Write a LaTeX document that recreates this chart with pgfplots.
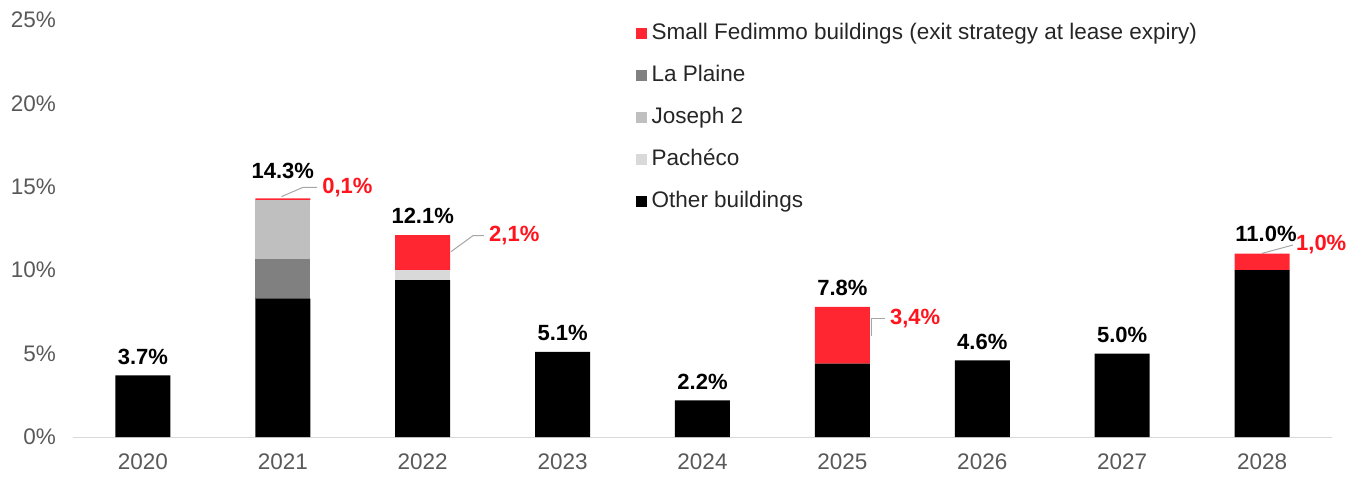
\documentclass[border=0pt]{standalone}
\usepackage{pgfplots}
\pgfplotsset{compat=1.18}
\usepackage{fontspec}
\setmainfont{Liberation Sans}
\definecolor{fedred}{RGB}{255,38,50}
\definecolor{redtext}{RGB}{255,20,30}
\definecolor{laplaine}{RGB}{128,128,128}
\definecolor{joseph}{RGB}{191,191,191}
\definecolor{pacheco}{RGB}{217,217,217}
\definecolor{ticktext}{RGB}{89,89,89}
\definecolor{legendtext}{RGB}{38,38,38}
\definecolor{axisline}{RGB}{217,217,217}
\definecolor{leader}{RGB}{166,166,166}
\begin{document}
\begin{tikzpicture}[font=\fontsize{22.5bp}{27bp}\selectfont]
\path[use as bounding box] (-73bp,-44bp) rectangle (1297bp,437bp);
\begin{axis}[
  at={(0,0)}, anchor=south west,
  scale only axis, width=1259bp, height=417bp,
  xmin=-0.5, xmax=8.5, ymin=0, ymax=25,
  ybar stacked, bar width=55bp,
  axis x line*=bottom, axis y line*=left,
  x axis line style={draw=axisline, line width=1bp},
  y axis line style={draw=none},
  tick style={draw=none}, major tick length=0pt,
  xtick={0,...,8},
  xticklabels={2020,2021,2022,2023,2024,2025,2026,2027,2028},
  ytick={0,5,10,15,20,25},
  yticklabels={0\%,5\%,10\%,15\%,20\%,25\%},
  ticklabel style={font=\fontsize{22.5bp}{27bp}\selectfont, text=ticktext},
  xticklabel style={yshift=-13bp},
  yticklabel style={xshift=-13.5bp},
  clip=false,
  legend style={at={(0.4472,0.9904)}, anchor=north west, draw=none, fill=none,
    inner sep=0pt, row sep=23bp, font=\fontsize{22.5bp}{27bp}\selectfont,
    text=legendtext,
    nodes={inner xsep=5bp, inner ysep=0pt, text height=15bp, text depth=4bp}},
  legend cell align=left,
  legend image code/.code={\fill[#1, draw=none] (0bp,-5bp) rectangle (10.5bp,5.5bp);},
]
% Other buildings
\addplot[fill=black, draw=none, forget plot] coordinates
  {(0,3.7) (1,8.3) (2,9.4) (3,5.1) (4,2.2) (5,4.4) (6,4.6) (7,5.0) (8,10.0)};
% La Plaine
\addplot[fill=laplaine, draw=none, forget plot] coordinates
  {(0,0) (1,2.4) (2,0) (3,0) (4,0) (5,0) (6,0) (7,0) (8,0)};
% Joseph 2
\addplot[fill=joseph, draw=none, forget plot] coordinates
  {(0,0) (1,3.5) (2,0) (3,0) (4,0) (5,0) (6,0) (7,0) (8,0)};
% Pacheco
\addplot[fill=pacheco, draw=none, forget plot] coordinates
  {(0,0) (1,0) (2,0.6) (3,0) (4,0) (5,0) (6,0) (7,0) (8,0)};
% Small Fedimmo buildings
\addplot[fill=fedred, draw=none, forget plot] coordinates
  {(0,0) (1,0.1) (2,2.1) (3,0) (4,0) (5,3.4) (6,0) (7,0) (8,1.0)};

\addlegendimage{fill=fedred}
\addlegendentry{Small Fedimmo buildings (exit strategy at lease expiry)}
\addlegendimage{fill=laplaine}
\addlegendentry{La Plaine}
\addlegendimage{fill=joseph}
\addlegendentry{Joseph 2}
\addlegendimage{fill=pacheco}
\addlegendentry{Pachéco}
\addlegendimage{fill=black}
\addlegendentry{Other buildings}

% totals
\node[font=\fontsize{22bp}{26bp}\selectfont\bfseries, yshift=18.5bp] at (axis cs:0,3.7) {3.7\%};
\node[font=\fontsize{22bp}{26bp}\selectfont\bfseries, yshift=28bp] at (axis cs:1,14.3) {14.3\%};
\node[font=\fontsize{22bp}{26bp}\selectfont\bfseries, yshift=19bp] at (axis cs:2,12.1) {12.1\%};
\node[font=\fontsize{22bp}{26bp}\selectfont\bfseries, yshift=18.5bp] at (axis cs:3,5.1) {5.1\%};
\node[font=\fontsize{22bp}{26bp}\selectfont\bfseries, yshift=18.5bp] at (axis cs:4,2.2) {2.2\%};
\node[font=\fontsize{22bp}{26bp}\selectfont\bfseries, yshift=18.5bp] at (axis cs:5,7.8) {7.8\%};
\node[font=\fontsize{22bp}{26bp}\selectfont\bfseries, yshift=18.5bp] at (axis cs:6,4.6) {4.6\%};
\node[font=\fontsize{22bp}{26bp}\selectfont\bfseries, yshift=18.5bp] at (axis cs:7,5.0) {5.0\%};
\node[font=\fontsize{22bp}{26bp}\selectfont\bfseries, yshift=20bp, xshift=4bp] at (axis cs:8,11.0) {11.0\%};

% red labels with leader lines
\draw[leader, line width=1bp] (axis cs:0.99,14.41) -- (axis cs:1.145,14.97) -- (axis cs:1.245,14.97);
\node[anchor=west, text=redtext, font=\fontsize{22bp}{26bp}\selectfont\bfseries, inner xsep=5bp] at (axis cs:1.245,14.97) {0,1\%};
\draw[leader, line width=1bp] (axis cs:2.202,11.11) -- (axis cs:2.359,12.07) -- (axis cs:2.438,12.07);
\node[anchor=west, text=redtext, font=\fontsize{22bp}{26bp}\selectfont\bfseries, inner xsep=5bp] at (axis cs:2.438,12.07) {2,1\%};
\draw[leader, line width=1bp] (axis cs:5.211,6.06) -- (axis cs:5.211,7.13) -- (axis cs:5.304,7.13);
\node[anchor=west, text=redtext, font=\fontsize{22bp}{26bp}\selectfont\bfseries, inner xsep=5bp] at (axis cs:5.304,7.13) {3,4\%};
\draw[leader, line width=1bp] (axis cs:8.0,11.01) -- (axis cs:8.221,11.51);
\node[anchor=west, text=redtext, font=\fontsize{22bp}{26bp}\selectfont\bfseries, inner xsep=3bp] at (axis cs:8.221,11.51) {1,0\%};
\end{axis}
\end{tikzpicture}
\end{document}
